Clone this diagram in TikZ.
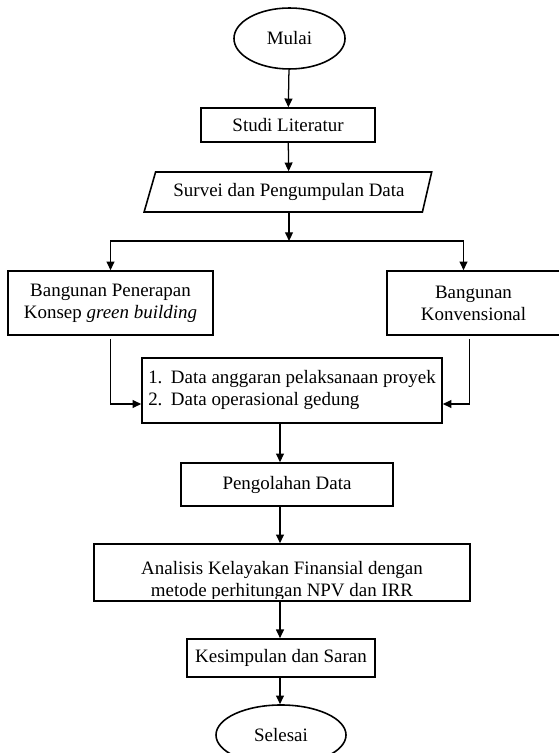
\documentclass[tikz,border=0pt]{standalone}
\usepackage{fontspec}
\setmainfont{Liberation Serif}
\usetikzlibrary{shapes.geometric,arrows.meta,calc}
\tikzset{
	box/.style={draw, line width=1pt, inner sep=0pt, align=center, font=\fontsize{12}{14}\selectfont},
	oval/.style={box, ellipse},
	iobox/.style={box, trapezium, trapezium left angle=60, trapezium right angle=115, trapezium stretches=true},
	arr/.style={-{Triangle[length=5.5pt,width=5pt]}, line width=0.8pt}
}
\begin{document}
\begin{tikzpicture}[x=0.633pt, y=-0.633pt]
	\useasboundingbox (0,0) rectangle (558,753);
	\node[oval, minimum width=70.3pt, minimum height=38.6pt] (mulai) at (289.5,38.5) {Mulai};
	\node[box, minimum width=110.1pt, minimum height=21.5pt] (studi) at (288,125) {Studi Literatur};
	\node[iobox, minimum width=182.3pt, minimum height=25.3pt] (survei) at (289,192) {Survei dan Pengumpulan Data};
	\node[box, minimum width=129.8pt, minimum height=40.5pt] (green) at (110.5,303) {Bangunan Penerapan\\Konsep \textit{green building}};
	\node[box, minimum width=109.5pt, minimum height=40.5pt] (konv) at (473.5,303) {Bangunan\\Konvensional};
	\node[box, minimum width=189.9pt, minimum height=41.1pt] (data) at (292,390.5) {\begin{tabular}{@{}l@{}}\makebox[1.2em][l]{1.}Data anggaran pelaksanaan proyek\\\makebox[1.2em][l]{2.}Data operasional gedung\end{tabular}};
	\node[box, minimum width=134.2pt, minimum height=27.2pt] (proc) at (287,484.5) {Pengolahan Data};
	\node[box, minimum width=238pt, minimum height=36.1pt] (ana) at (282,572.5) {};
	\begin{scope}
		\clip (94,544) rectangle (470,598);
		\node[box, draw=none, anchor=south] (anatext) at (ana.south) {Analisis Kelayakan Finansial dengan\\metode perhitungan NPV dan IRR};
	\end{scope}
	\node[box, minimum width=119pt, minimum height=24.1pt] (kes) at (281,658) {Kesimpulan dan Saran};
	\node[oval, minimum width=82.3pt, minimum height=38pt] (selesai) at (281,735) {Selesai};
	\coordinate (fork) at (289,241);
	\coordinate (lowaxis) at (280,0);

	\draw[arr] (mulai) -- (studi);
	\draw[arr] (studi) -- (survei);
	\draw[arr] (survei.south) -- (survei.south |- fork);
	\draw[arr] (survei.south |- fork) -| (green.north);
	\draw[arr] (survei.south |- fork) -| ($(konv.north)+(-10,0)$);
	\draw[arr, shorten <=2pt] (green.south) |- ($(data.west)+(0,13.5)$);
	\draw[arr, shorten <=2pt] ($(konv.south)+(-4,0)$) |- ($(data.east)+(0,13.5)$);
	\draw[arr] (data.south -| lowaxis) -- (proc.north -| lowaxis);
	\draw[arr] (proc.south -| lowaxis) -- (ana.north -| lowaxis);
	\draw[arr] (ana.south -| lowaxis) -- (kes.north -| lowaxis);
	\draw[arr] (kes.south -| lowaxis) -- (selesai.north -| lowaxis);
\end{tikzpicture}
\end{document}
